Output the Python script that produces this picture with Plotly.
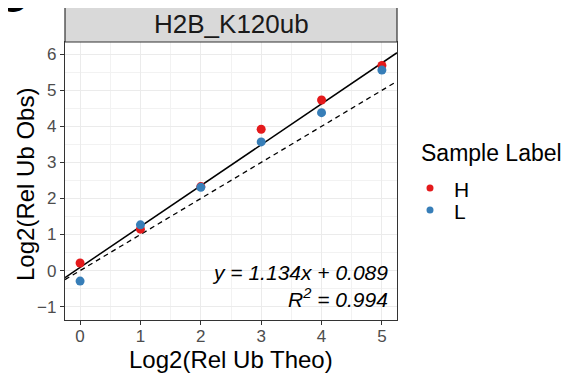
import plotly.graph_objects as go

theo = [0, 1, 2, 3, 4, 5]
obs_H = [0.21, 1.15, 2.33, 3.92, 4.73, 5.69]
obs_L = [-0.29, 1.27, 2.31, 3.57, 4.38, 5.56]
labels = ["H", "L"]
colors = {"H": "#E41A1C", "L": "#377EB8"}
fit_slope, fit_intercept = 1.134, 0.089
ref_slope, ref_intercept = 1.0, 0.0
r_squared = 0.994
x_range = [-0.25, 5.25]
y_range = [-1.37, 6.34]
x_ticks = [0, 1, 2, 3, 4, 5]
y_ticks = [-1, 0, 1, 2, 3, 4, 5, 6]
facet_title = "H2B_K120ub"
x_title = "Log2(Rel Ub Theo)"
y_title = "Log2(Rel Ub Obs)"
legend_title = "Sample Label"

FONT = "Liberation Sans, Arial, sans-serif"

# page geometry (the html body adds an 8px margin)
OFF = 8
W, H = 575, 379
L, R, T, B = 65, 397, 42, 320
PW, PH = R - L, B - T


def px(x):
    return (x - L) / PW


def py(y):
    return (B - y) / PH


fig = go.Figure()

fig.add_trace(go.Scatter(
    x=x_range, y=[fit_slope * v + fit_intercept for v in x_range],
    mode="lines", line=dict(color="black", width=1.5), showlegend=False, hoverinfo="skip"))
fig.add_trace(go.Scatter(
    x=x_range, y=[ref_slope * v + ref_intercept for v in x_range],
    mode="lines", line=dict(color="black", width=1.3, dash="5px,4px"), showlegend=False, hoverinfo="skip"))

for lab, ys in zip(labels, [obs_H, obs_L]):
    fig.add_trace(go.Scatter(
        x=theo, y=ys, mode="markers", name=lab, showlegend=False,
        marker=dict(color=colors[lab], size=9, line=dict(width=0)),
    ))

axis_common = dict(
    showline=True, linecolor="#333333", linewidth=1.2, mirror=True,
    showgrid=True, gridcolor="#EBEBEB", gridwidth=1.2,
    ticks="outside", ticklen=4, tickcolor="#333333", tickwidth=1,
    tickfont=dict(family=FONT, size=17, color="#4D4D4D"),
    zeroline=False, automargin=False,
    minor=dict(dtick=0.5, showgrid=True, gridcolor="#F2F2F2", gridwidth=0.8, ticks=""),
)

fig.update_layout(
    width=W - OFF, height=H - OFF,
    margin=dict(l=L - OFF, r=W - R, t=T - OFF, b=H - B, autoexpand=False),
    paper_bgcolor="white", plot_bgcolor="white",
    font=dict(family=FONT, color="black"),
    xaxis=dict(range=x_range, tickvals=x_ticks, ticklabelstandoff=-4, **axis_common),
    yaxis=dict(range=y_range, tickvals=y_ticks, **axis_common),
    showlegend=False,
)

# axis titles
fig.add_annotation(xref="paper", yref="paper", x=px(231), y=py(359), text=x_title,
                   showarrow=False, font=dict(size=24, color="black"),
                   xanchor="center", yanchor="middle")
fig.add_annotation(xref="paper", yref="paper", x=px(25), y=py(185), text=y_title,
                   showarrow=False, font=dict(size=24, color="black"), textangle=-90,
                   xanchor="center", yanchor="middle")

# facet strip
fig.add_shape(type="rect", xref="paper", yref="paper", x0=0, x1=1, y0=1, y1=py(4),
              fillcolor="#D9D9D9", line=dict(color="#333333", width=1.2), layer="above")
fig.add_annotation(xref="paper", yref="paper", x=0.5, y=py(24), text=facet_title,
                   showarrow=False, font=dict(size=26, color="#1A1A1A"), yanchor="middle")

# legend (drawn manually to match ggplot spacing)
fig.add_annotation(xref="paper", yref="paper", x=px(419), y=py(153), text=legend_title,
                   showarrow=False, font=dict(size=23, color="black"),
                   xanchor="left", yanchor="middle")
for lab, ycen in zip(labels, [188, 210]):
    fig.add_shape(type="circle", xref="paper", yref="paper",
                  x0=px(426.5), x1=px(433.5), y0=py(ycen + 3.5), y1=py(ycen - 3.5),
                  fillcolor=colors[lab], line=dict(width=0))
    fig.add_annotation(xref="paper", yref="paper", x=px(452), y=py(ycen + 1), text=lab,
                       showarrow=False, font=dict(size=21, color="black"),
                       xanchor="left", yanchor="middle")

# equation text
fig.add_annotation(xref="paper", yref="paper", x=px(390), y=py(272),
                   xanchor="right", yanchor="middle", showarrow=False,
                   text=f"<i>y = {fit_slope:.3f}x + {fit_intercept:.3f}</i>",
                   font=dict(size=21, color="black"))
fig.add_annotation(xref="paper", yref="paper", x=px(390), y=py(298),
                   xanchor="right", yanchor="middle", showarrow=False,
                   text=f"<i>R<sup>2</sup> = {r_squared:.3f}</i>",
                   font=dict(size=21, color="black"))

# panel letter (cut off at top)
fig.add_annotation(xref="paper", yref="paper", x=px(-6), y=py(23),
                   xanchor="left", yanchor="bottom", showarrow=False, text="<b>C</b>",
                   font=dict(size=44, color="black"))

fig.write_html("out.html")
